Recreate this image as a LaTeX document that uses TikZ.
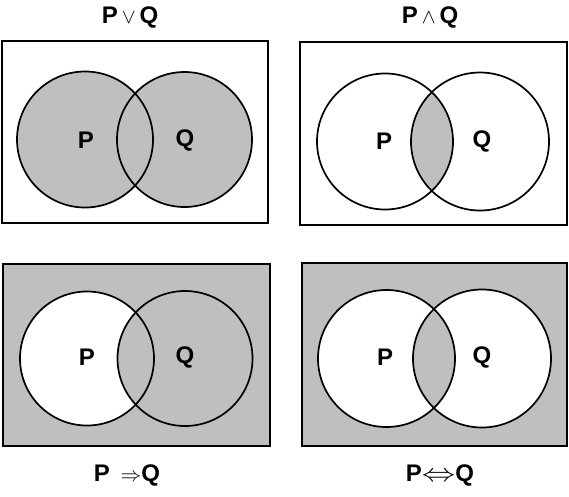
\documentclass[tikz,border=0pt]{standalone}
\usepackage{fontspec}
\setmainfont{Liberation Sans}
\begin{document}
\begin{tikzpicture}[x=1pt,y=-1pt,
  frame/.style={line width=2.3pt},
  ring/.style={line width=1.7pt},
  shade/.style={fill=black!25},
  lbl/.style={font=\bfseries\fontsize{24}{28}\selectfont, inner sep=0pt},
  ttl/.style={font=\bfseries\fontsize{24}{28}\selectfont, inner sep=0pt}]
\useasboundingbox (0,0) rectangle (569,496);
% top left: P or Q
\draw[frame, fill=white] (2,41) rectangle (268,223);
\fill[shade] (85,139.5) circle[radius=68pt];
\fill[shade] (184.5,139.5) circle[radius=67.5pt];
\draw[ring] (85,139.5) circle[radius=68pt];
\draw[ring] (184.5,139.5) circle[radius=67.5pt];
\node[lbl] (p1) at (86,140) {P};
\node[lbl] (q1) at (185,140) {Q};
\node[ttl] (t1) at (130,17) {P\,{\fontsize{20}{22}\selectfont$\vee$}\,Q};
% top right: P and Q
\draw[frame, fill=white] (300,42) rectangle (567,225);
\begin{scope}
\clip (385,141.5) circle[radius=68pt];
\fill[shade] (480,141.5) circle[radius=69pt];
\end{scope}
\draw[ring] (385,141.5) circle[radius=68pt];
\draw[ring] (480,141.5) circle[radius=69pt];
\node[lbl] (p2) at (384,141) {P};
\node[lbl] (q2) at (482,141) {Q};
\node[ttl] (t2) at (430,17) {P\,{\fontsize{20}{22}\selectfont$\wedge$}\,Q};
% bottom left: P implies Q
\draw[frame, shade] (3,264) rectangle (270,446);
\fill[white] (87,358.5) circle[radius=67pt];
\fill[shade] (185,358.5) circle[radius=67.5pt];
\draw[ring] (87,358.5) circle[radius=67pt];
\draw[ring] (185,358.5) circle[radius=67.5pt];
\node[lbl] (p3) at (87,357) {P};
\node[lbl] (q3) at (185,357) {Q};
\node[ttl] (t3) at (127,475) {P\ \,{\fontsize{22}{24}\selectfont$\Rightarrow$}Q};
% bottom right: P iff Q
\draw[frame, shade] (302,263) rectangle (567,446);
\fill[white] (386.5,358.5) circle[radius=68.5pt];
\fill[white] (482,358.5) circle[radius=69pt];
\begin{scope}
\clip (386.5,358.5) circle[radius=68.5pt];
\fill[shade] (482,358.5) circle[radius=69pt];
\end{scope}
\draw[ring] (386.5,358.5) circle[radius=68.5pt];
\draw[ring] (482,358.5) circle[radius=69pt];
\node[lbl] (p4) at (385,357) {P};
\node[lbl] (q4) at (482,357) {Q};
\node[ttl] (t4) at (440,475) {P{\fontsize{24}{26}\selectfont\scalebox{1.35}[1]{$\Leftrightarrow$}}Q};
\end{tikzpicture}
\end{document}
